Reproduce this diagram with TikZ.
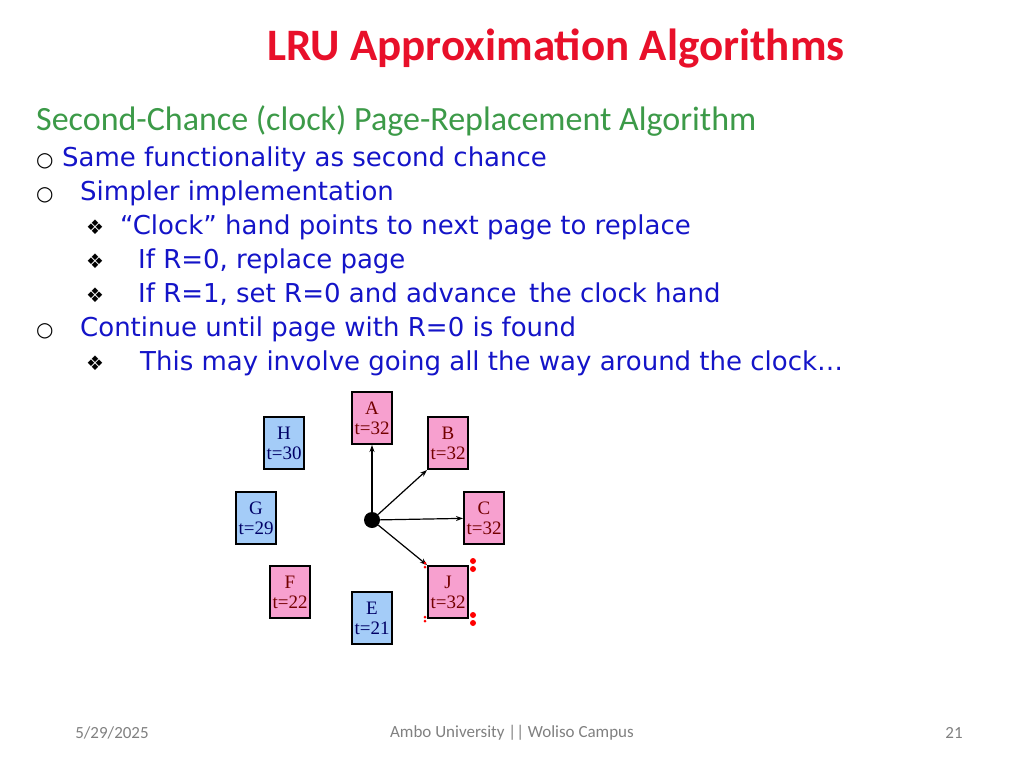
\documentclass[tikz,border=0pt]{standalone}
\usepackage{fontspec}
\setmainfont{Carlito}
\newfontfamily\bodyf{DejaVu Sans}
\newfontfamily\serf{Liberation Serif}
\usetikzlibrary{arrows.meta}
\definecolor{ttl}{HTML}{E8102A}
\definecolor{sub}{HTML}{3C9A48}
\definecolor{bl}{HTML}{1414C8}
\definecolor{pinkb}{HTML}{F7A0CF}
\definecolor{blueb}{HTML}{A4CCF8}
\begin{document}
\begin{tikzpicture}[x=1pt,y=-1pt,
  page/.style={draw=black,line width=2pt,minimum width=40pt,minimum height=52pt,inner sep=0pt,align=center,font=\serf\fontsize{19}{20}\selectfont},
  pk/.style={page,fill=pinkb,text=red!45!black},
  bu/.style={page,fill=blueb,text=blue!40!black},
  txt/.style={anchor=base west,text=bl,font=\bodyf\fontsize{26}{26}\selectfont},
  mk/.style={anchor=base west,font=\bodyf\fontsize{20}{20}\selectfont},
  hand/.style={-{Stealth[length=7pt,width=5pt]},line width=1.2pt}]
\useasboundingbox (0,0) rectangle (1024,768);
\node[anchor=center,text=ttl,font=\fontsize{45}{45}\selectfont\bfseries] (title) at (556,48) {LRU Approximation Algorithms};
\node[anchor=base west,text=sub,font=\fontsize{34}{34}\selectfont,inner sep=0pt] (sub) at (36,130) {Second-Chance (clock) Page-Replacement Algorithm};
\node[mk,inner sep=0pt] (m1) at (36,166) {○};
\node[txt,inner sep=0pt] (l1) at (62,166) {Same functionality as second chance};
\node[mk,inner sep=0pt] (m2) at (36,200) {○};
\node[txt,inner sep=0pt] (l2) at (80,200) {Simpler implementation};
\node[mk,inner sep=0pt] (m3) at (86,234) {❖};
\node[txt,inner sep=0pt] (l3) at (120,234) {“Clock” hand points to next page to replace};
\node[mk,inner sep=0pt] (m4) at (86,268) {❖};
\node[txt,inner sep=0pt] (l4) at (138,268) {If R=0, replace page};
\node[mk,inner sep=0pt] (m5) at (86,302) {❖};
\node[txt,inner sep=0pt] (l5) at (138,302) {If R=1, set R=0 and advance\, the clock hand};
\node[mk,inner sep=0pt] (m6) at (36,336) {○};
\node[txt,inner sep=0pt] (l6) at (80,336) {Continue until page with R=0 is found};
\node[mk,inner sep=0pt] (m7) at (86,370) {❖};
\node[txt,inner sep=0pt] (l7) at (140,370) {This may involve going all the way around the clock…};
% clock
\node[pk] (A) at (372,418) {A\\t=32};
\node[bu] (H) at (284,443) {H\\t=30};
\node[pk] (B) at (448,443) {B\\t=32};
\node[bu] (G) at (256,518) {G\\t=29};
\node[pk] (C) at (484,518) {C\\t=32};
\node[pk] (F) at (290,592) {F\\t=22};
\node[bu] (E) at (372,618) {E\\t=21};
\node[pk] (J) at (448,592) {J\\t=32};
\node[circle,fill=black,minimum size=16pt,inner sep=0pt] (hub) at (372,520) {};
\draw[hand] (hub) -- (A);
\draw[hand] (hub) -- (B.south west);
\draw[hand] (hub) -- (C);
\draw[hand] (hub) -- (J.north west);
\foreach \a in {north east,south east}
  \fill[red] ([shift={(4pt,-4pt)}]J.\a) circle (3pt) ([shift={(4pt,4pt)}]J.\a) circle (3pt);
\foreach \a in {north west,south west}
  \fill[red] ([shift={(-2pt,2pt)}]J.\a) circle (1.5pt) ([shift={(-2pt,-2pt)}]J.\a) circle (1.5pt);
\node[anchor=center,text=gray,font=\fontsize{17}{17}\selectfont] (d) at (112,733) {5/29/2025};
\node[anchor=center,text=gray,font=\fontsize{17}{17}\selectfont] (u) at (512,733) {Ambo University || Woliso Campus};
\node[anchor=center,text=gray,font=\fontsize{17}{17}\selectfont] (n) at (954,733) {21};
\end{tikzpicture}
\end{document}
